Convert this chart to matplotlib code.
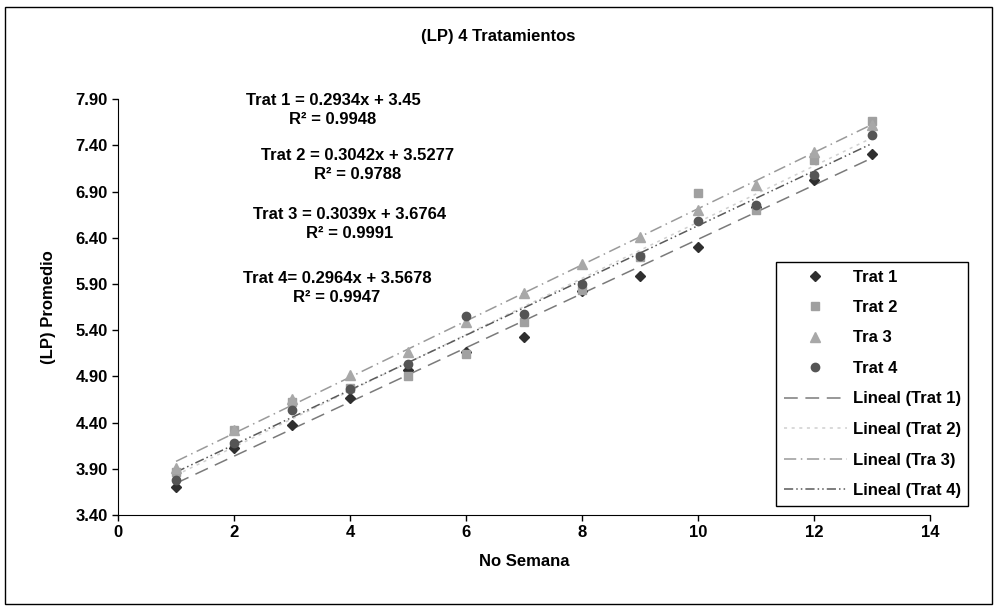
"""
(LP) promedio por semana para 4 tratamientos, con líneas de tendencia lineal
"""
import matplotlib
matplotlib.use('Agg')
import matplotlib.pyplot as plt
from matplotlib.patches import Rectangle

plt.rcParams['font.family'] = ['Liberation Sans', 'DejaVu Sans']
plt.rcParams['font.weight'] = 'bold'

semanas = [1, 2, 3, 4, 5, 6, 7, 8, 9, 10, 11, 12, 13]
trat1 = [3.70, 4.12, 4.37, 4.67, 4.97, 5.16, 5.33, 5.82, 5.99, 6.30, 6.73, 7.03, 7.31]
trat2 = [3.86, 4.32, 4.62, 4.77, 4.90, 5.14, 5.49, 5.84, 6.19, 6.88, 6.70, 7.24, 7.66]
trat3 = [3.91, 4.32, 4.65, 4.91, 5.16, 5.49, 5.80, 6.12, 6.41, 6.70, 6.97, 7.33, 7.62]
trat4 = [3.78, 4.18, 4.54, 4.76, 5.03, 5.55, 5.58, 5.90, 6.20, 6.58, 6.75, 7.08, 7.51]

nombres = ['Trat 1', 'Trat 2', 'Tra 3', 'Trat 4']
pendientes = [0.2934, 0.3042, 0.3039, 0.2964]
intercepts = [3.45, 3.5277, 3.6764, 3.5678]
ecuaciones = ['Trat 1 = 0.2934x + 3.45\nR² = 0.9948',
              'Trat 2 = 0.3042x + 3.5277\nR² = 0.9788',
              'Trat 3 = 0.3039x + 3.6764\nR² = 0.9991',
              'Trat 4= 0.2964x + 3.5678\nR² = 0.9947']

y_ticks = [3.40, 3.90, 4.40, 4.90, 5.40, 5.90, 6.40, 6.90, 7.40, 7.90]
x_ticks = [0, 2, 4, 6, 8, 10, 12, 14]

marcadores = ['D', 's', '^', 'o']
colores = ['#2f2f2f', '#a0a0a0', '#a8a8a8', '#555555']
tamanos = [5.5, 5.5, 6.5, 6]
estilos = [(0, (9, 5)), (0, (2, 3)), (0, (8, 3, 1, 3)), (0, (6, 2, 1, 2, 1, 2))]
colores_linea = ['#7a7a7a', '#d0d0d0', '#9a9a9a', '#5a5a5a']

fig = plt.figure(figsize=(9.96, 6.12), dpi=100)
ax = fig.add_axes([0.1185, 0.1585, 0.8155, 0.6795])

series = [trat1, trat2, trat3, trat4]
puntos = []
for datos, nom, m, c, s in zip(series, nombres, marcadores, colores, tamanos):
    p, = ax.plot(semanas, datos, linestyle='none', marker=m, color=c,
                 markersize=s, label=nom, zorder=3)
    puntos.append(p)

lineas = []
x_tend = [semanas[0], semanas[-1]]
for nom, a, b, ls, c in zip(nombres, pendientes, intercepts, estilos, colores_linea):
    y_tend = [a * x + b for x in x_tend]
    l, = ax.plot(x_tend, y_tend, linestyle=ls, color=c, linewidth=1.1,
                 label=f'Lineal ({nom})', zorder=2)
    lineas.append(l)

ax.set_xlim(0, 14)
ax.set_ylim(3.40, 7.90)
ax.set_xticks(x_ticks)
ax.set_yticks(y_ticks)
ax.set_yticklabels([f'{v:.2f}' for v in y_ticks])
ax.tick_params(labelsize=12, length=4, width=1, direction='out')
ax.spines['top'].set_visible(False)
ax.spines['right'].set_visible(False)
ax.set_xlabel('No Semana', fontsize=12, fontweight='bold', labelpad=10)
ax.set_ylabel('(LP) Promedio', fontsize=12, fontweight='bold', labelpad=14)

fig.text(0.5, 0.940, '(LP) 4 Tratamientos', ha='center', va='center',
         fontsize=12, fontweight='bold')

# posiciones de las ecuaciones (en pixeles de la figura)
pos_ec = [(333, 110), (358, 165), (350, 224), (337, 288)]
for (px, py), txt in zip(pos_ec, ecuaciones):
    fig.text(px / 996, 1 - py / 612, txt, ha='center', va='center',
             fontsize=12, fontweight='bold', linespacing=1.4)

leg = ax.legend(handles=puntos + lineas, loc='upper left',
                bbox_to_anchor=(776 / 996, 1 - 262 / 612),
                bbox_transform=fig.transFigure, fontsize=12, borderaxespad=0,
                labelspacing=0.93, handlelength=3.8, handletextpad=0.35,
                borderpad=0.45, fancybox=False, framealpha=1)
leg.get_frame().set_edgecolor('black')
leg.get_frame().set_linewidth(1)

fig.patches.append(Rectangle((5 / 996, 8 / 612), 987 / 996, 597 / 612,
                             transform=fig.transFigure, fill=False,
                             edgecolor='black', linewidth=1))

fig.savefig('out.png', dpi=100)
